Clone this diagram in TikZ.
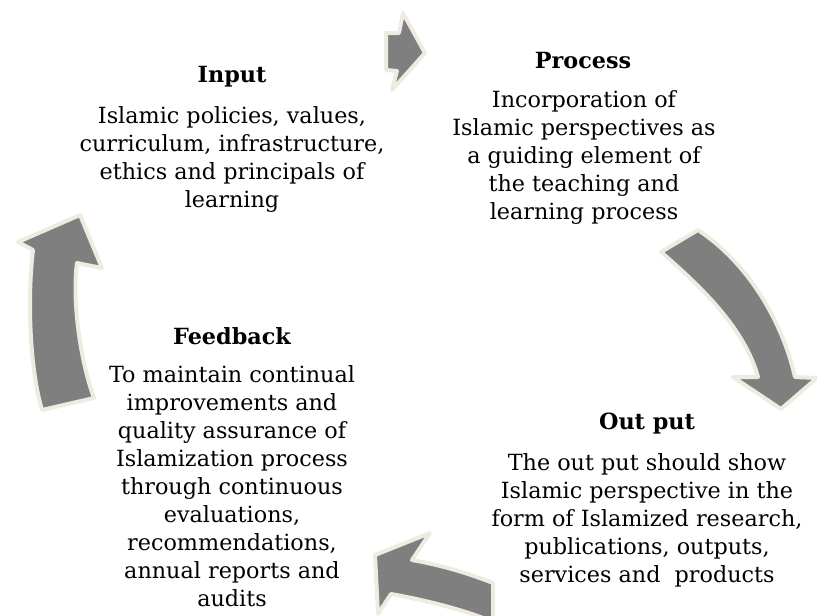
\documentclass[tikz,border=0pt]{standalone}
\usepackage{fontspec}
\setmainfont{DejaVu Serif}
\definecolor{arrowfill}{HTML}{7F7F7F}
\definecolor{arrowedge}{HTML}{EEECE1}
\begin{document}
\begin{tikzpicture}[x=1pt,y=-1pt,
  blockarrow/.style={fill=arrowfill,draw=arrowedge,line width=4pt,line join=round},
  ttl/.style={font=\fontsize{22.3}{28}\selectfont\bfseries,inner sep=0pt},
  body/.style={font=\fontsize{22.3}{28}\selectfont,align=center,inner sep=0pt}]
\useasboundingbox (0,0) rectangle (817,616);
\begin{scope}
\clip (0,0) rectangle (817,616);
% top arrow
\draw[blockarrow] (386,33) -- (399,33) -- (403,13) -- (425,53) -- (392,90) -- (397,71) -- (386,70) -- cycle;
% right arrow
\draw[blockarrow] (661,252) .. controls (705,290) and (745,330) .. (758,377)
  -- (733,377) -- (781,409) -- (817,378) -- (795,377)
  .. controls (782,320) and (747,262) .. (698,230) -- cycle;
% bottom arrow
\draw[blockarrow] (493,583) .. controls (465,572) and (440,565) .. (412,560)
  -- (430,533) -- (375,555) -- (378,614) -- (391,594)
  .. controls (425,600) and (465,610) .. (493,622) -- cycle;
% left arrow
\draw[blockarrow] (94,398) .. controls (80,360) and (72,300) .. (77,263)
  -- (102,268) -- (80,215) -- (18,242) -- (33,250)
  .. controls (27,300) and (30,370) .. (42,410) -- cycle;
\end{scope}
% texts
\node[ttl] (inT) at (232,77) {Input};
\node[body] (inB) at (232,159.5) {Islamic policies, values,\\curriculum, infrastructure,\\ethics and principals of\\learning};
\node[ttl] (prT) at (583,61) {Process};
\node[body] (prB) at (584,158) {Incorporation of\\Islamic perspectives as\\a guiding element of\\the teaching and\\learning process};
\node[ttl] (ouT) at (647,424) {Out put};
\node[body] (ouB) at (647,520.5) {The out put should show\\Islamic perspective in the\\form of Islamized research,\\publications, outputs,\\services and\ \ products};
\node[ttl] (fbT) at (232,336) {Feedback};
\node[body] (fbB) at (232,486.5) {To maintain continual\\improvements and\\quality assurance of\\Islamization process\\through continuous\\evaluations,\\recommendations,\\annual reports and\\audits};
\end{tikzpicture}
\end{document}
